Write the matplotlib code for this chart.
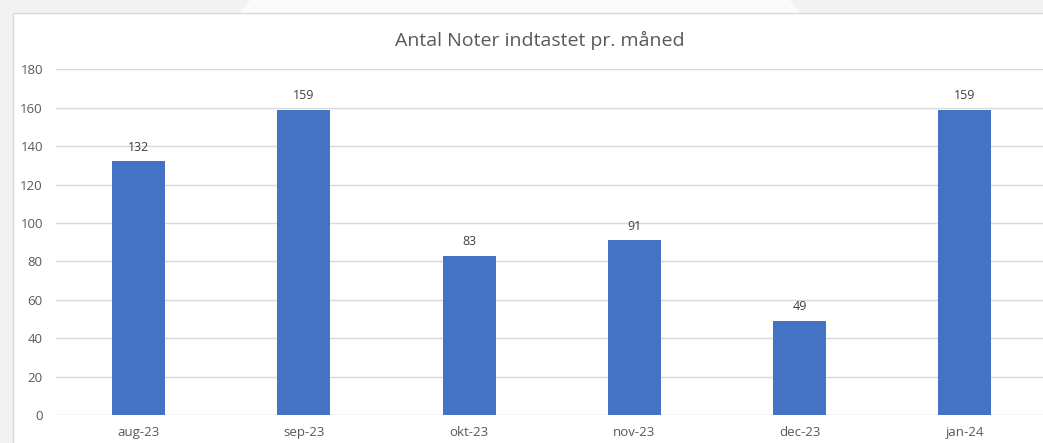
import matplotlib.pyplot as plt
from matplotlib.patches import Rectangle, Polygon

months = ['aug-23', 'sep-23', 'okt-23', 'nov-23', 'dec-23', 'jan-24']
notes = [132, 159, 83, 91, 49, 159]
y_ticks = [0, 20, 40, 60, 80, 100, 120, 140, 160, 180]

W, H = 1043, 443
fig = plt.figure(figsize=(W / 100, H / 100), dpi=100)
fig.patch.set_facecolor('#f2f2f2')

# lys baggrundsfigur + hvid diagramflade
fig.patches.append(Polygon([(250 / W, 1), (790 / W, 1), (800 / W, 1 - 13 / H), (240 / W, 1 - 13 / H)],
                           closed=True, transform=fig.transFigure, facecolor='#fbfbfb',
                           edgecolor='none', zorder=-2))
fig.patches.append(Rectangle((13 / W, -0.01), 1.2, 1.01 - 13 / H, transform=fig.transFigure,
                             facecolor='white', edgecolor='#d9d9d9', linewidth=1.0, zorder=-1))

# akse: venstre kant x=56, højre kant ~1047 (beskåret), y 0 ved 415, 180 ved 69
left, right = 56, 1047.5
bottom, top = 415, 69.3
ax = fig.add_axes([left / W, 1 - bottom / H, (right - left) / W, (bottom - top) / H])
ax.set_facecolor('none')
ax.set_zorder(2)

x = range(len(months))
bars = ax.bar(x, notes, width=0.32, color='#4472c4', zorder=3)
for bar, v in zip(bars, notes):
    ax.text(bar.get_x() + bar.get_width() / 2, v + 4, str(v), ha='center', va='bottom',
            fontsize=9, color='#404040', family='Open Sans')

ax.set_xlim(-0.5, len(months) - 0.5)
ax.set_ylim(0, 180)
ax.set_yticks(y_ticks)
ax.set_xticks(list(x))
ax.set_xticklabels(months)
ax.yaxis.grid(True, color='#d9d9d9', linewidth=1.0, zorder=0)
for s in ax.spines.values():
    s.set_visible(False)
ax.tick_params(axis='both', length=0, colors='#595959', labelsize=9.5)
ax.tick_params(axis='y', pad=9.5)
ax.tick_params(axis='x', pad=8)
for lab in ax.get_xticklabels() + ax.get_yticklabels():
    lab.set_family('Open Sans')

fig.text(540 / W, 1 - 40 / H, 'Antal Noter indtastet pr. måned', ha='center', va='center',
         fontsize=14, color='#595959', family='Open Sans', zorder=3)

fig.savefig('out.png', dpi=100, facecolor=fig.get_facecolor())
